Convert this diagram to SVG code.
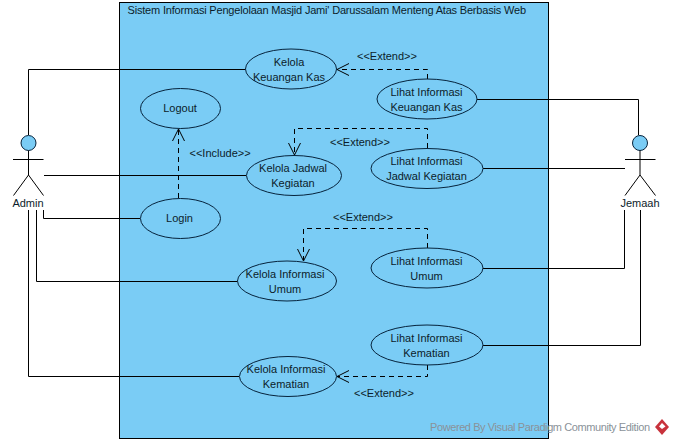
<svg xmlns="http://www.w3.org/2000/svg" width="674" height="444" viewBox="0 0 674 444">
<style>
text{font-family:"Liberation Sans",Arial,sans-serif;font-size:11px;fill:#0c1c2a}
.m{text-anchor:middle}
.uc ellipse{fill:#7accf5;stroke:#06233c;stroke-width:1}
.line{fill:none;stroke:#000;stroke-width:1}
.dash{fill:none;stroke:#000;stroke-width:1;stroke-dasharray:5 4}
.head{fill:none;stroke:#000;stroke-width:1}
.actor circle{fill:#7accf5;stroke:#06233c;stroke-width:1}
.actor path{fill:none;stroke:#000;stroke-width:1}
.wm{fill:#8a9299;font-size:11px}
</style>
<rect width="674" height="444" fill="#fff"/>
<g id="system">
<rect x="119.5" y="2.5" width="429" height="436" fill="#7accf5" stroke="#000" stroke-width="1"/>
<text x="127.5" y="14" textLength="398.5" lengthAdjust="spacing">Sistem Informasi Pengelolaan Masjid Jami' Darussalam Menteng Atas Berbasis Web</text>
</g>
<g id="connectors">
<path class="line" d="M28.5 135V69.500H245"/>
<path class="line" d="M44 175.500H246"/>
<path class="line" d="M43.500 210V218.500H140"/>
<path class="line" d="M36.500 210V281.500H237"/>
<path class="line" d="M28.500 210V376.500H239"/>
<path class="line" d="M477 99.500H638.500V135"/>
<path class="line" d="M483 168.500H625"/>
<path class="line" d="M483 268.500H624.500V210"/>
<path class="line" d="M483 345.500H640.500V210"/>
<path class="dash" d="M178.500 198V129"/>
<path class="head" d="M172.500 141L178.500 129L184.500 141"/>
<path class="dash" d="M427.500 79V69.500H337"/>
<path class="head" d="M349 63.500L337 69.500L349 75.500"/>
<path class="dash" d="M427.500 148V128.500H294.500V154"/>
<path class="head" d="M288.500 143L294.500 155L300.500 143"/>
<path class="dash" d="M427.500 248V228.500H303.500V260"/>
<path class="head" d="M297.500 249L303.500 261L309.500 249"/>
<path class="dash" d="M427.500 365V376.500H337"/>
<path class="head" d="M349 370.500L337 376.500L349 382.500"/>
</g>
<g id="admin" class="actor">
<circle cx="28.500" cy="143" r="7.500"/>
<path d="M28.500 150.500V175M13 159.500H43.500M28.500 175L13.500 195.500M28.500 175L43.500 195.500"/>
<text class="m" x="28" y="207">Admin</text>
</g>
<g id="jemaah" class="actor">
<circle cx="640" cy="143" r="7.500"/>
<path d="M640 150.500V175M625 159.500H655.500M640 175L625 195.500M640 175L655.500 195.500"/>
<text class="m" x="640" y="207">Jemaah</text>
</g>
<g id="uc-kelola-keuangan" class="uc"><ellipse cx="291" cy="69" rx="45.500" ry="20"/><text class="m" x="289" y="66">Kelola</text><text class="m" x="289" y="81">Keuangan Kas</text></g>
<g id="uc-logout" class="uc"><ellipse cx="180.500" cy="108.500" rx="40" ry="20"/><text class="m" x="180" y="112">Logout</text></g>
<g id="uc-kelola-jadwal" class="uc"><ellipse cx="294" cy="175.500" rx="47.500" ry="20"/><text class="m" x="293" y="172">Kelola Jadwal</text><text class="m" x="293" y="187">Kegiatan</text></g>
<g id="uc-login" class="uc"><ellipse cx="180.500" cy="218.500" rx="40" ry="20"/><text class="m" x="179.500" y="222">Login</text></g>
<g id="uc-kelola-umum" class="uc"><ellipse cx="287" cy="281" rx="49.500" ry="20"/><text class="m" x="285" y="278">Kelola Informasi</text><text class="m" x="285" y="293">Umum</text></g>
<g id="uc-kelola-kematian" class="uc"><ellipse cx="288" cy="376.500" rx="48.500" ry="20"/><text class="m" x="286" y="373">Kelola Informasi</text><text class="m" x="286" y="388">Kematian</text></g>
<g id="uc-lihat-keuangan" class="uc"><ellipse cx="427" cy="99" rx="50" ry="20"/><text class="m" x="426.500" y="96">Lihat Informasi</text><text class="m" x="426.500" y="111">Keuangan Kas</text></g>
<g id="uc-lihat-jadwal" class="uc"><ellipse cx="427" cy="168.500" rx="56" ry="20"/><text class="m" x="426.500" y="165">Lihat Informasi</text><text class="m" x="426.500" y="180">Jadwal Kegiatan</text></g>
<g id="uc-lihat-umum" class="uc"><ellipse cx="427" cy="268" rx="56" ry="20"/><text class="m" x="426.500" y="265">Lihat Informasi</text><text class="m" x="426.500" y="280">Umum</text></g>
<g id="uc-lihat-kematian" class="uc"><ellipse cx="427" cy="345" rx="56" ry="20"/><text class="m" x="426.500" y="342">Lihat Informasi</text><text class="m" x="426.500" y="357">Kematian</text></g>
<g id="labels">
<text x="189.500" y="157">&lt;&lt;Include&gt;&gt;</text>
<text x="357" y="60">&lt;&lt;Extend&gt;&gt;</text>
<text x="330" y="146">&lt;&lt;Extend&gt;&gt;</text>
<text x="333" y="221">&lt;&lt;Extend&gt;&gt;</text>
<text x="354" y="397">&lt;&lt;Extend&gt;&gt;</text>
</g>
<g id="watermark">
<text class="wm" x="430" y="431" textLength="220" lengthAdjust="spacing">Powered By  Visual Paradigm Community Edition</text>
<path d="M662 419L669 427L662 435L655 427Z" fill="#c8323c"/>
<path d="M662 423L665.500 426.500L662 429L659 426.500Z" fill="#fff"/>
</g>
</svg>
